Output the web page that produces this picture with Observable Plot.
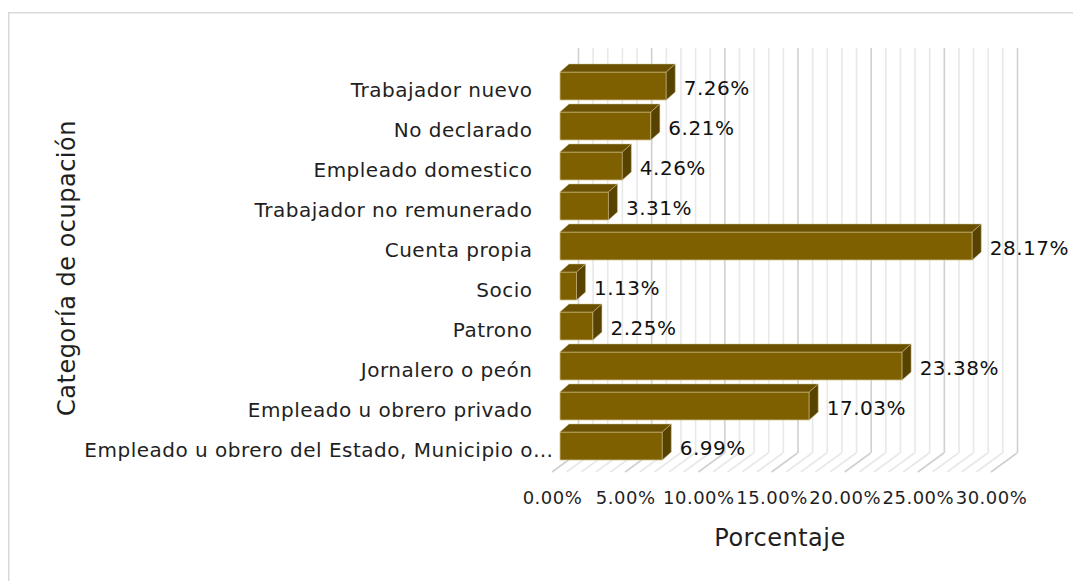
<!DOCTYPE html>
<html><head><meta charset="utf-8">
<script src="https://cdn.jsdelivr.net/npm/d3@7"></script>
<script src="https://cdn.jsdelivr.net/npm/@observablehq/plot@0.6"></script>
<style>body{margin:0;background:#fff} svg{display:block}</style>
</head><body><div id="chart"></div>
<script>
const categories = [
  "Trabajador nuevo",
  "No declarado",
  "Empleado domestico",
  "Trabajador no remunerado",
  "Cuenta propia",
  "Socio",
  "Patrono",
  "Jornalero o peón",
  "Empleado u obrero privado",
  "Empleado u obrero del Estado, Municipio o…"
];
const values = [7.26, 6.21, 4.26, 3.31, 28.17, 1.13, 2.25, 23.38, 17.03, 6.99];
const xTicks = [0, 5, 10, 15, 20, 25, 30];
const gridTicks = d3.range(0, 31, 1);
const xTitle = "Porcentaje";
const yTitle = "Categoría de ocupación";

const data = categories.map((c, i) => ({category: c, value: values[i]}));
const pct = v => v.toFixed(2) + "%";
const lastCat = categories[categories.length - 1];

const FRONT = "#7F6000", TOP = "#6a5000", SIDE = "#574200", EDGE = "#d2c08c";
const DX = 9, DY = -8;

const chart = Plot.plot({
  width: 1073, height: 581,
  marginLeft: 560, marginRight: 74, marginTop: 64, marginBottom: 114,
  x: {domain: [0, 30]},
  y: {domain: categories, paddingInner: 0.3, paddingOuter: 0.15, axis: null},
  style: {fontFamily: "'DejaVu Sans', sans-serif", color: "#262626", background: "#fff", letterSpacing: "0.5px"},
  marks: [
    Plot.ruleX(gridTicks.filter(t => t % 5 !== 0), {stroke: "#e8e8e8", strokeWidth: 1.6, dx: 18, insetTop: -16, insetBottom: 14}),
    Plot.ruleX(gridTicks.filter(t => t % 5 === 0), {stroke: "#d0d0d0", strokeWidth: 1.6, dx: 18, insetTop: -16, insetBottom: 14}),
    Plot.barX(data, {x: "value", y: "category", fill: FRONT, stroke: EDGE, strokeWidth: 0.8}),
    Plot.text(data, {x: "value", y: "category", text: d => pct(d.value), dx: 17, dy: 2, textAnchor: "start", fontSize: 20, fill: "#111"}),
    Plot.text(data.filter(d => d.category !== lastCat), {x: d => 0, y: "category", text: "category", dx: -28, dy: 4, textAnchor: "end", fontSize: 20, fill: "#1f1f1f"}),
    Plot.text(data.filter(d => d.category === lastCat), {x: d => 0, y: "category", text: "category", dx: -7, dy: 4, textAnchor: "end", fontSize: 20, fill: "#1f1f1f"}),
    Plot.axisX(xTicks, {tickSize: 0, tickPadding: 24, dx: -8, fontSize: 18, tickFormat: pct, label: null, fill: "#1f1f1f"}),
    Plot.text([xTitle], {frameAnchor: "bottom", lineAnchor: "middle", textAnchor: "middle", dy: 71, fontSize: 24, text: d => d, fill: "#1f1f1f"}),
    Plot.text([yTitle], {frameAnchor: "left", lineAnchor: "middle", textAnchor: "middle", rotate: -90, dx: -493, dy: 2, fontSize: 24, text: d => d, fill: "#1f1f1f"})
  ]
});

const xs = chart.scale("x"), ys = chart.scale("y");
const bw = ys.bandwidth;
const svg = d3.select(chart);
const fy1 = 581 - 114;

// floor diagonal grid lines (behind everything)
const floor = svg.insert("g", ":first-child");
gridTicks.forEach(t => {
  const xb = xs.apply(t);
  floor.append("line")
    .attr("x1", xb + 18).attr("y1", fy1 - 14)
    .attr("x2", xb - 8).attr("y2", fy1 + 5)
    .attr("stroke", t % 5 === 0 ? "#d0d0d0" : "#e8e8e8").attr("stroke-width", 1.6);
});
// outer chart border
svg.insert("rect", ":first-child")
  .attr("x", 8.75).attr("y", 12.75).attr("width", 1100).attr("height", 600)
  .attr("fill", "none").attr("stroke", "#d9d9d9").attr("stroke-width", 1.5);

// 3D faces of bars
const faces = svg.append("g");
data.forEach(d => {
  const x0 = xs.apply(0), x1 = xs.apply(d.value), yt = ys.apply(d.category), yb = yt + bw;
  faces.append("polygon")
    .attr("points", [[x0, yt], [x1, yt], [x1 + DX, yt + DY], [x0 + DX, yt + DY]].map(p => p.join(",")).join(" "))
    .attr("fill", TOP).attr("stroke", EDGE).attr("stroke-width", 0.5);
  faces.append("polygon")
    .attr("points", [[x1, yt], [x1 + DX, yt + DY], [x1 + DX, yb + DY], [x1, yb]].map(p => p.join(",")).join(" "))
    .attr("fill", SIDE).attr("stroke", EDGE).attr("stroke-width", 0.5);
});

document.getElementById("chart").appendChild(chart);
</script>
</body></html>
